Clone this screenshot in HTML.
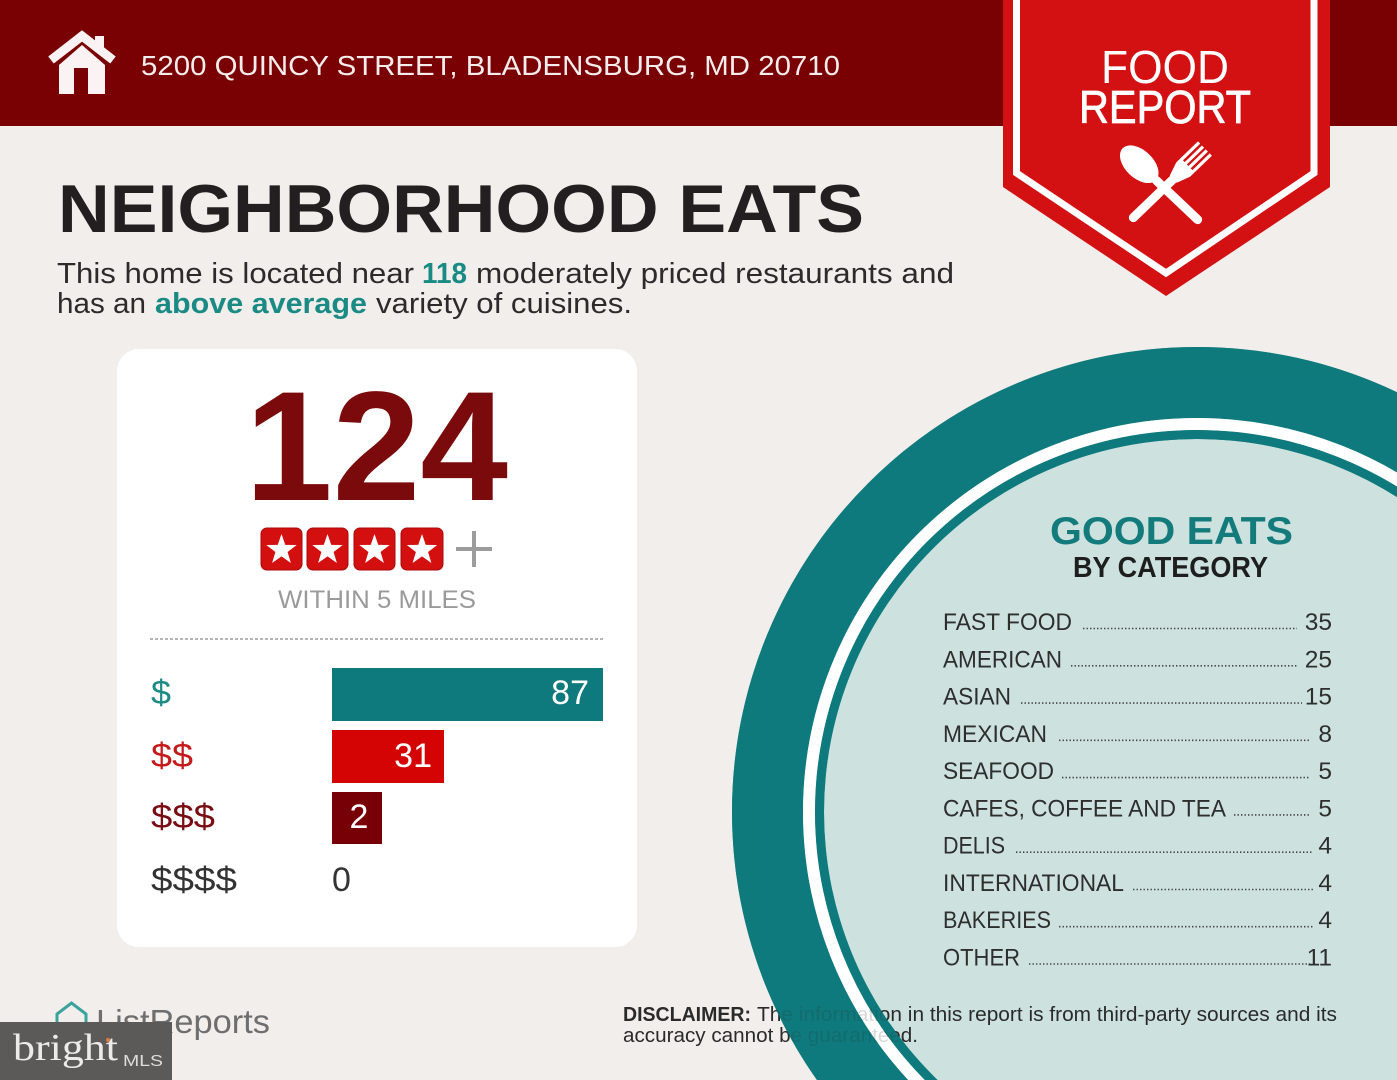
<!DOCTYPE html>
<html><head><meta charset="utf-8"><style>
html,body{margin:0;padding:0;background:#f2eeeb;width:1397px;height:1080px;overflow:hidden;}
svg{display:block;}
text{font-family:"Liberation Sans",sans-serif;}
</style></head><body>
<svg width="1397" height="1080" viewBox="0 0 1397 1080" xmlns="http://www.w3.org/2000/svg">
<defs>
<polygon id="star" points="0,-16 3.76,-5.18 15.22,-4.94 6.09,1.98 9.4,12.94 0,6.4 -9.4,12.94 -6.09,1.98 -15.22,-4.94 -3.76,-5.18" fill="#ffffff"/>
</defs>
<rect x="0" y="0" width="1397" height="1080" fill="#f2eeeb"/>

<!-- header -->
<rect x="0" y="0" width="1397" height="126" fill="#7a0103"/>
<!-- house icon -->
<g fill="#fbf3f3">
<rect x="95" y="36" width="9" height="16"/>
<polygon points="59,94 59,65 82,45 105,65 105,94"/>
</g>
<rect x="74" y="68" width="14" height="26" fill="#7a0103"/>
<polyline points="51,60 82,36 113,60" fill="none" stroke="#fbf3f3" stroke-width="9" stroke-linejoin="miter"/>
<text x="141" y="75" font-size="28" fill="#f5ecec" textLength="699" lengthAdjust="spacingAndGlyphs">5200 QUINCY STREET, BLADENSBURG, MD 20710</text>

<!-- banner -->
<polygon points="1003,0 1330,0 1330,187 1166,296 1003,187" fill="#d31012"/>
<polyline points="1016.5,0 1016.5,173 1166,273 1314,173 1314,0" fill="none" stroke="#ffffff" stroke-width="7"/>
<text x="1165" y="83" font-size="46" fill="#ffffff" text-anchor="middle" textLength="128" lengthAdjust="spacingAndGlyphs">FOOD</text>
<text x="1165" y="123" font-size="46" fill="#ffffff" stroke="#ffffff" stroke-width="0.8" text-anchor="middle" textLength="172" lengthAdjust="spacingAndGlyphs">REPORT</text>
<!-- fork -->
<g transform="translate(1133,218) rotate(-44)" fill="#ffffff">
<rect x="-4" y="-4.5" width="64" height="9" rx="4.5"/>
<path d="M56,-5 L70,-10 L70,10 L56,5 Z"/>
<rect x="68" y="-10" width="8" height="20" rx="3"/>
<rect x="74" y="-10" width="26" height="3.2"/>
<rect x="74" y="-4.3" width="26" height="3.2"/>
<rect x="74" y="1.1" width="26" height="3.2"/>
<rect x="74" y="6.8" width="26" height="3.2"/>
</g>
<!-- spoon -->
<g transform="translate(1198,220) rotate(-136.5)" fill="#ffffff">
<rect x="-4" y="-4.5" width="66" height="9" rx="4.5"/>
<ellipse cx="81" cy="0" rx="23" ry="14"/>
</g>

<!-- title -->
<text x="58" y="232" font-size="68" font-weight="bold" fill="#231f20" textLength="806" lengthAdjust="spacingAndGlyphs">NEIGHBORHOOD EATS</text>
<text x="57" y="283" font-size="29" fill="#2d2a2b" textLength="357" lengthAdjust="spacingAndGlyphs">This home is located near</text>
<text x="422" y="283" font-size="29" font-weight="bold" fill="#1a8a85" textLength="45" lengthAdjust="spacingAndGlyphs">118</text>
<text x="476" y="283" font-size="29" fill="#2d2a2b" textLength="478" lengthAdjust="spacingAndGlyphs">moderately priced restaurants and</text>
<text x="57" y="313" font-size="29" fill="#2d2a2b" textLength="89" lengthAdjust="spacingAndGlyphs">has an</text>
<text x="155" y="313" font-size="29" font-weight="bold" fill="#1a8a85" textLength="212" lengthAdjust="spacingAndGlyphs">above average</text>
<text x="376" y="313" font-size="29" fill="#2d2a2b" textLength="256" lengthAdjust="spacingAndGlyphs">variety of cuisines.</text>

<!-- card -->
<rect x="117" y="349" width="520" height="598" rx="22" fill="#ffffff"/>
<text x="245" y="500" font-size="156" font-weight="bold" fill="#7a0a0c" textLength="263" lengthAdjust="spacingAndGlyphs">124</text>
<g>
<rect x="261" y="528" width="41" height="42" rx="6" fill="#d40f10" stroke="#a80a0a" stroke-width="1"/>
<rect x="307" y="528" width="41" height="42" rx="6" fill="#d40f10" stroke="#a80a0a" stroke-width="1"/>
<rect x="354" y="528" width="41" height="42" rx="6" fill="#d40f10" stroke="#a80a0a" stroke-width="1"/>
<rect x="401" y="528" width="42" height="42" rx="6" fill="#d40f10" stroke="#a80a0a" stroke-width="1"/>
<use href="#star" x="281.5" y="550"/>
<use href="#star" x="327.5" y="550"/>
<use href="#star" x="374.5" y="550"/>
<use href="#star" x="422" y="550"/>
</g>
<line x1="456" y1="549" x2="492" y2="549" stroke="#9c9c9c" stroke-width="4"/>
<line x1="474" y1="531" x2="474" y2="567" stroke="#9c9c9c" stroke-width="4"/>
<text x="278" y="608" font-size="25" fill="#9a9a9a" textLength="198" lengthAdjust="spacingAndGlyphs">WITHIN 5 MILES</text>
<line x1="150" y1="639" x2="603" y2="639" stroke="#b5b5b5" stroke-width="2" stroke-dasharray="3 2"/>

<text x="151" y="704" font-size="34" fill="#1d8a85" textLength="20" lengthAdjust="spacingAndGlyphs">$</text>
<rect x="332" y="668" width="271" height="53" fill="#0f7a7d"/>
<text x="589" y="704" font-size="34" fill="#ffffff" text-anchor="end">87</text>

<text x="151" y="767" font-size="34" fill="#c41a1c" textLength="42" lengthAdjust="spacingAndGlyphs">$$</text>
<rect x="332" y="730" width="112" height="53" fill="#d40404"/>
<text x="432" y="767" font-size="34" fill="#ffffff" text-anchor="end">31</text>

<text x="151" y="828" font-size="34" fill="#7a0d14" textLength="64" lengthAdjust="spacingAndGlyphs">$$$</text>
<rect x="332" y="792" width="50" height="52" fill="#760006"/>
<text x="359" y="828" font-size="34" fill="#ffffff" text-anchor="middle">2</text>

<text x="151" y="891" font-size="34" fill="#333333" textLength="86" lengthAdjust="spacingAndGlyphs">$$$$</text>
<text x="332" y="891" font-size="34" fill="#333333">0</text>

<!-- plate circle -->
<circle cx="1197" cy="812" r="465" fill="#0f7a7d"/>
<circle cx="1197" cy="812" r="394" fill="#ffffff"/>
<circle cx="1197" cy="812" r="382" fill="#0f7a7d"/>
<circle cx="1197" cy="812" r="373" fill="#cde2df"/>

<text x="1050" y="544" font-size="39" font-weight="bold" fill="#137b7c" textLength="243" lengthAdjust="spacingAndGlyphs">GOOD EATS</text>
<text x="1073" y="577" font-size="29" font-weight="bold" fill="#1e1e1e" textLength="195" lengthAdjust="spacingAndGlyphs">BY CATEGORY</text>

<g font-size="24.5" fill="#2e2e2e">
<text x="943" y="630" textLength="129" lengthAdjust="spacingAndGlyphs">FAST FOOD</text>
<text x="1332" y="630" text-anchor="end">35</text>
<text x="943" y="667.3" textLength="119" lengthAdjust="spacingAndGlyphs">AMERICAN</text>
<text x="1332" y="667.3" text-anchor="end">25</text>
<text x="943" y="704.6" textLength="68" lengthAdjust="spacingAndGlyphs">ASIAN</text>
<text x="1332" y="704.6" text-anchor="end">15</text>
<text x="943" y="741.8" textLength="104" lengthAdjust="spacingAndGlyphs">MEXICAN</text>
<text x="1332" y="741.8" text-anchor="end">8</text>
<text x="943" y="779.1" textLength="111" lengthAdjust="spacingAndGlyphs">SEAFOOD</text>
<text x="1332" y="779.1" text-anchor="end">5</text>
<text x="943" y="816.4" textLength="283" lengthAdjust="spacingAndGlyphs">CAFES, COFFEE AND TEA</text>
<text x="1332" y="816.4" text-anchor="end">5</text>
<text x="943" y="853.7" textLength="62" lengthAdjust="spacingAndGlyphs">DELIS</text>
<text x="1332" y="853.7" text-anchor="end">4</text>
<text x="943" y="891" textLength="181" lengthAdjust="spacingAndGlyphs">INTERNATIONAL</text>
<text x="1332" y="891" text-anchor="end">4</text>
<text x="943" y="928.2" textLength="108" lengthAdjust="spacingAndGlyphs">BAKERIES</text>
<text x="1332" y="928.2" text-anchor="end">4</text>
<text x="943" y="965.5" textLength="77" lengthAdjust="spacingAndGlyphs">OTHER</text>
<text x="1332" y="965.5" text-anchor="end">11</text>
</g>
<g stroke="#444" stroke-width="1.6" stroke-dasharray="1.4 2.1">
<line x1="1083" y1="628.5" x2="1297" y2="628.5"/>
<line x1="1071" y1="665.8" x2="1297" y2="665.8"/>
<line x1="1021" y1="703.1" x2="1302" y2="703.1"/>
<line x1="1059" y1="740.3" x2="1310" y2="740.3"/>
<line x1="1062" y1="777.6" x2="1310" y2="777.6"/>
<line x1="1234" y1="814.9" x2="1310" y2="814.9"/>
<line x1="1016" y1="852.2" x2="1313" y2="852.2"/>
<line x1="1133" y1="889.5" x2="1313" y2="889.5"/>
<line x1="1059" y1="926.7" x2="1313" y2="926.7"/>
<line x1="1029" y1="964" x2="1310" y2="964"/>
</g>

<!-- disclaimer -->
<g fill="#2a2a2a">
<text x="623" y="1021" font-size="20" font-weight="bold" textLength="128" lengthAdjust="spacingAndGlyphs">DISCLAIMER:</text>
<text x="757" y="1021" font-size="20" textLength="580" lengthAdjust="spacingAndGlyphs">The information in this report is from third-party sources and its</text>
<text x="623" y="1042" font-size="20" textLength="295" lengthAdjust="spacingAndGlyphs">accuracy cannot be guaranteed.</text>
</g>
<!-- rings over text (semi-transparent) -->
<g fill="none" opacity="0.82">
<circle cx="1197" cy="812" r="429.5" stroke="#0f7a7d" stroke-width="71"/>
<circle cx="1197" cy="812" r="388" stroke="#ffffff" stroke-width="12"/>
<circle cx="1197" cy="812" r="377.5" stroke="#0f7a7d" stroke-width="9"/>
</g>

<!-- ListReports logo -->
<polygon points="57,1030 57,1014 71.5,1003 86,1014 86,1030" fill="none" stroke="#3aa39c" stroke-width="3"/>
<text x="96" y="1033" font-size="33" fill="#6e6e6e" textLength="174" lengthAdjust="spacingAndGlyphs">ListReports</text>

<!-- bright MLS -->
<rect x="0" y="1022" width="172" height="58" fill="#5c5a59"/>
<text x="13" y="1060" font-size="38" fill="#ebebeb" style="font-family:'Liberation Serif',serif" textLength="105" lengthAdjust="spacingAndGlyphs">bright</text>
<circle cx="108" cy="1040" r="2" fill="#e07a3a"/>
<text x="123" y="1066" font-size="16" fill="#dcdcdc" textLength="40" lengthAdjust="spacingAndGlyphs">MLS</text>
</svg>
</body></html>
